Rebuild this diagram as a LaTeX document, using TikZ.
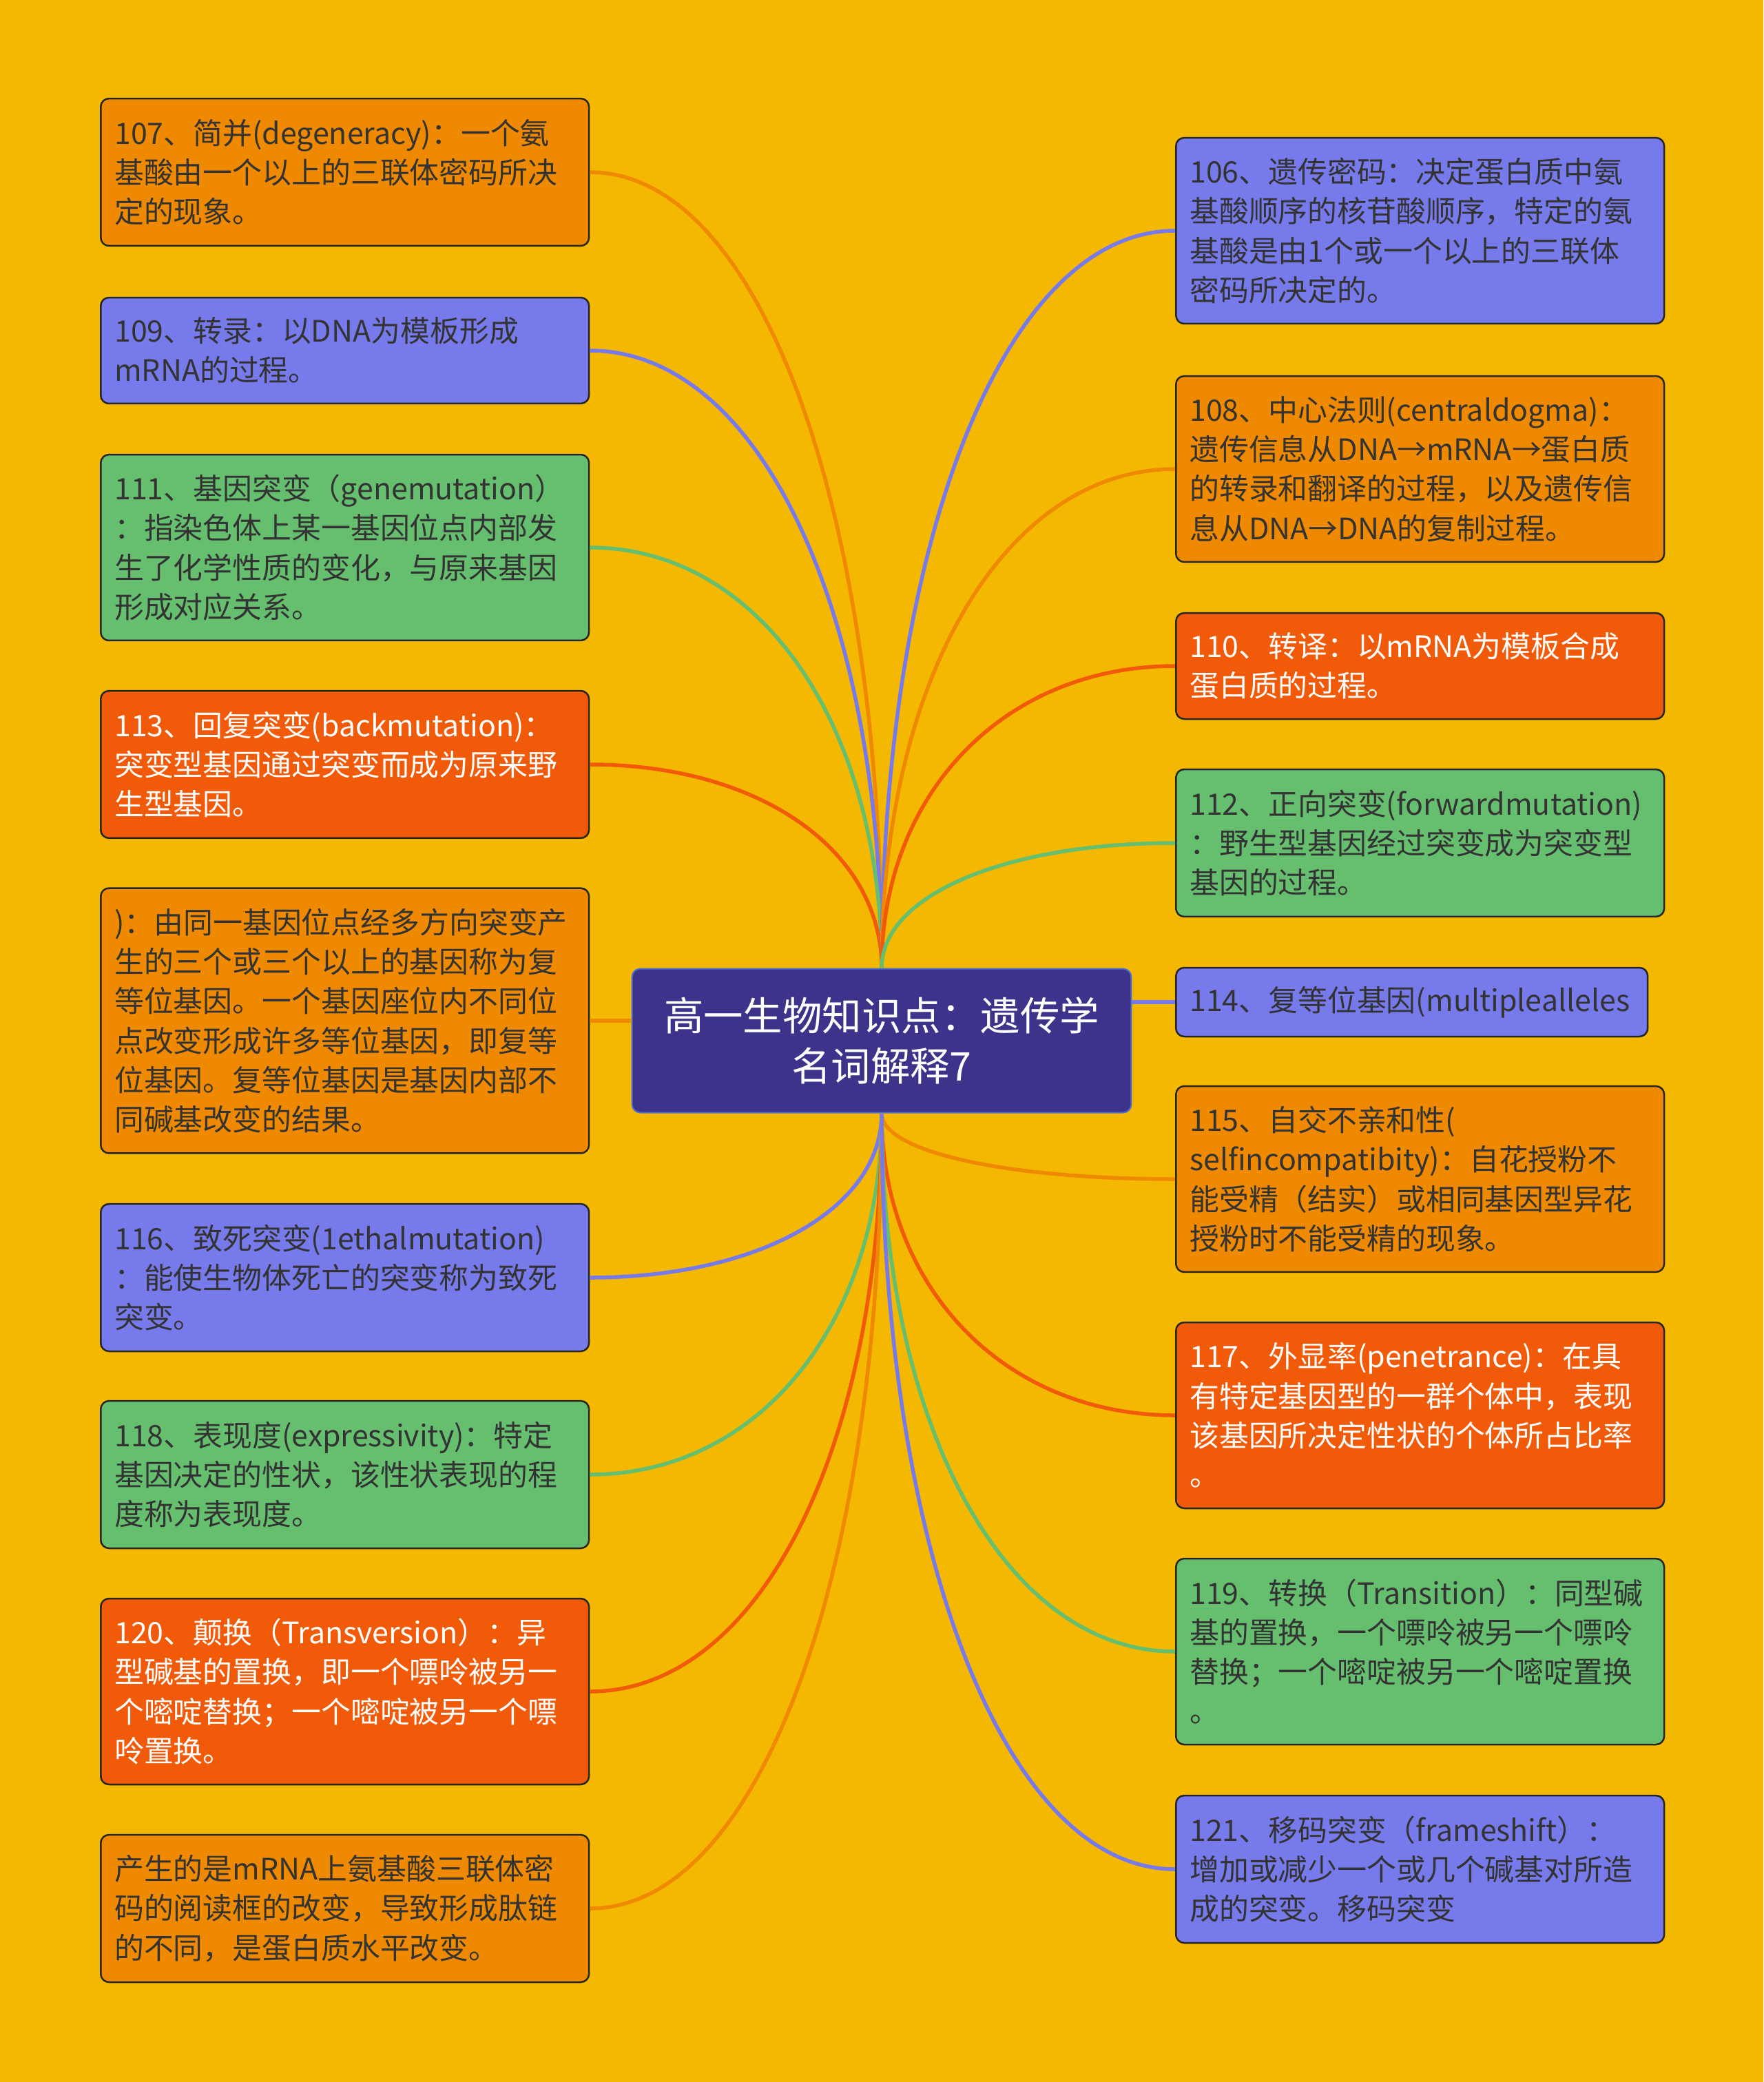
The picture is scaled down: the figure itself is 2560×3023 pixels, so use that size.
\documentclass[tikz,border=0pt]{standalone}
\usepackage{fontspec}
\newfontfamily\cjkfont{Noto Sans CJK SC}
\usetikzlibrary{calc}
\begin{document}
\begin{tikzpicture}[x=0.02cm,y=-0.02cm,
 leaf/.style={draw=boxline,line width=0.05cm,rounded corners=0.24cm,anchor=west,
  align=left,text width=13.38cm,inner xsep=0.4cm,inner ysep=0.1cm,text=textgray,
  font=\cjkfont\fontsize{24.4pt}{32.6pt}\selectfont},
 h1/.style={minimum height=2.0cm},
 h2/.style={minimum height=3.08cm},
 h3/.style={minimum height=4.28cm},
 h4/.style={minimum height=5.40cm},
 h6/.style={minimum height=7.70cm},
 hub/.style={fill=hubblue,draw=hubline,line width=0.04cm,rounded corners=0.24cm,
  minimum width=14.5cm,minimum height=4.18cm,align=center,text=white,
  font=\cjkfont\fontsize{32.7pt}{41.5pt}\selectfont},
 link/.style={line width=0.11cm},
 branch/.style={link,to path={.. controls ($(\tikztostart)!0.58!(\tikztostart|-\tikztotarget)$)
  and ($(\tikztotarget)!0.58!(\tikztotarget-|\tikztostart)$) .. (\tikztotarget)}}]
 \definecolor{bgyellow}{HTML}{F5B800}
 \definecolor{corange}{HTML}{EF8A00}
 \definecolor{cblue}{HTML}{777AEA}
 \definecolor{cgreen}{HTML}{66BF6F}
 \definecolor{cred}{HTML}{F05A08}
 \definecolor{hubblue}{HTML}{3C348A}
 \definecolor{hubline}{HTML}{4A70D6}
 \definecolor{boxline}{HTML}{262626}
 \definecolor{textgray}{HTML}{333333}
 \fill [bgyellow] (0,0) rectangle (2560,3023);
 % centre
 \node [hub] (c) at (1280,1511) {高一生物知识点：遗传学\\名词解释7};
 % left column
 \node [leaf,h3,fill=corange] (n107) at (145,250) {107、简并(degeneracy)：一个氨\\基酸由一个以上的三联体密码所决\\定的现象。};
 \node [leaf,h2,fill=cblue] (n109) at (145,509) {109、转录：以DNA为模板形成\\mRNA的过程。};
 \node [leaf,h4,fill=cgreen] (n111) at (145,795) {111、基因突变（genemutation）\\：指染色体上某一基因位点内部发\\生了化学性质的变化，与原来基因\\形成对应关系。};
 \node [leaf,h3,fill=cred,text=white] (n113) at (145,1110) {113、回复突变(backmutation)：\\突变型基因通过突变而成为原来野\\生型基因。};
 \node [leaf,h6,fill=corange] (n114b) at (145,1482) {)：由同一基因位点经多方向突变产\\生的三个或三个以上的基因称为复\\等位基因。一个基因座位内不同位\\点改变形成许多等位基因，即复等\\位基因。复等位基因是基因内部不\\同碱基改变的结果。};
 \node [leaf,h3,fill=cblue] (n116) at (145,1855) {116、致死突变(1ethalmutation)\\：能使生物体死亡的突变称为致死\\突变。};
 \node [leaf,h3,fill=cgreen] (n118) at (145,2141) {118、表现度(expressivity)：特定\\基因决定的性状，该性状表现的程\\度称为表现度。};
 \node [leaf,h4,fill=cred,text=white] (n120) at (145,2456) {120、颠换（Transversion）：异\\型碱基的置换，即一个嘌呤被另一\\个嘧啶替换；一个嘧啶被另一个嘌\\呤置换。};
 \node [leaf,h3,fill=corange] (n121b) at (145,2771) {产生的是mRNA上氨基酸三联体密\\码的阅读框的改变，导致形成肽链\\的不同，是蛋白质水平改变。};
 % right column
 \node [leaf,h4,fill=cblue] (n106) at (1706,335) {106、遗传密码：决定蛋白质中氨\\基酸顺序的核苷酸顺序，特定的氨\\基酸是由1个或一个以上的三联体\\密码所决定的。};
 \node [leaf,h4,fill=corange] (n108) at (1706,681) {108、中心法则(centraldogma)：\\遗传信息从DNA→mRNA→蛋白质\\的转录和翻译的过程，以及遗传信\\息从DNA→DNA的复制过程。};
 \node [leaf,h2,fill=cred,text=white] (n110) at (1706,967) {110、转译：以mRNA为模板合成\\蛋白质的过程。};
 \node [leaf,h3,fill=cgreen] (n112) at (1706,1224) {112、正向突变(forwardmutation)\\：野生型基因经过突变成为突变型\\基因的过程。};
 \node [leaf,h1,fill=cblue,text width=12.9cm] (n114) at (1706,1455) {114、复等位基因(multiplealleles};
 \node [leaf,h4,fill=corange] (n115) at (1706,1712) {115、自交不亲和性(\\selfincompatibity)：自花授粉不\\能受精（结实）或相同基因型异花\\授粉时不能受精的现象。};
 \node [leaf,h4,fill=cred,text=white] (n117) at (1706,2055) {117、外显率(penetrance)：在具\\有特定基因型的一群个体中，表现\\该基因所决定性状的个体所占比率\\。};
 \node [leaf,h4,fill=cgreen] (n119) at (1706,2398) {119、转换（Transition）：同型碱\\基的置换，一个嘌呤被另一个嘌呤\\替换；一个嘧啶被另一个嘧啶置换\\。};
 \node [leaf,h3,fill=cblue] (n121) at (1706,2714) {121、移码突变（frameshift）：\\增加或减少一个或几个碱基对所造\\成的突变。移码突变};
 % connectors
 \draw [branch,corange] (c.north) to (n107.east);
 \draw [branch,cblue] (c.north) to (n109.east);
 \draw [branch,cgreen] (c.north) to (n111.east);
 \draw [branch,cred] (c.north) to (n113.east);
 \draw [link,corange] (c.west |- n114b.east) -- (n114b.east);
 \draw [branch,cblue] (c.south) to (n116.east);
 \draw [branch,cgreen] (c.south) to (n118.east);
 \draw [branch,cred] (c.south) to (n120.east);
 \draw [branch,corange] (c.south) to (n121b.east);
 \draw [branch,cblue] (c.north) to (n106.west);
 \draw [branch,corange] (c.north) to (n108.west);
 \draw [branch,cred] (c.north) to (n110.west);
 \draw [branch,cgreen] (c.north) to (n112.west);
 \draw [link,cblue] (c.east |- n114.west) -- (n114.west);
 \draw [branch,corange] (c.south) to (n115.west);
 \draw [branch,cred] (c.south) to (n117.west);
 \draw [branch,cgreen] (c.south) to (n119.west);
 \draw [branch,cblue] (c.south) to (n121.west);
\end{tikzpicture}
\end{document}
